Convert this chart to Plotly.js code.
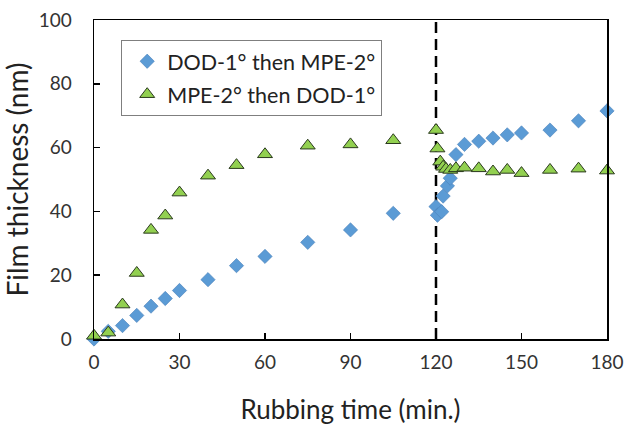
<!DOCTYPE html>
<html>
<head>
<meta charset="utf-8">
<script src="https://cdn.plot.ly/plotly-3.0.1.min.js"></script>
<style>html,body{margin:0;padding:0;background:#fff;}#chart{width:627px;height:425px;}</style>
</head>
<body>
<div id="chart"></div>
<script>
const seriesNames = ["DOD-1° then MPE-2°", "MPE-2° then DOD-1°"];
const timeDOD = [0,5,10,15,20,25,30,40,50,60,75,90,105,120,120.5,122,122.5,124,125,127,130,135,140,145,150,160,170,180];
const thickDOD = [0,2.4,4.2,7.4,10.3,12.7,15.2,18.6,23,25.9,30.3,34.2,39.4,41.5,38.8,39.9,44.8,48,50.4,57.8,61,62,63,64,64.6,65.5,68.4,71.5];
const timeMPE = [0,5,10,15,20,25,30,40,50,60,75,90,105,120,120.5,121.5,122.5,123.5,125,127,130,135,140,145,150,160,170,180];
const thickMPE = [1,2,10.8,20.7,34.2,38.7,45.9,51.2,54.5,57.9,60.6,61,62.3,65.5,59.7,55.6,54,53.3,53,53.5,53.7,53.5,52.5,53,52,53,53.4,52.8];
const xTicks = [0,30,60,90,120,150,180];
const yTicks = [0,20,40,60,80,100];
const switchTime = 120;

const FONT = "Lato, 'Open Sans', sans-serif";

const traces = [
  {
    x: timeDOD, y: thickDOD, name: seriesNames[0], type: "scatter", mode: "markers",
    legendgroup: "a", cliponaxis: false,
    marker: {symbol: "diamond", size: 11, color: "#5B9BD5", line: {color: "#4a80b8", width: 0.6}}
  },
  {
    x: timeMPE, y: thickMPE, name: seriesNames[1], type: "scatter", mode: "markers",
    legendgroup: "b", cliponaxis: false,
    marker: {symbol: "triangle-up", size: 13, color: "#92D050", line: {color: "#2b3a1e", width: 1}}
  }
];

const layout = {
  width: 627, height: 425,
  margin: {l: 94, r: 20, t: 20, b: 86},
  paper_bgcolor: "#fff", plot_bgcolor: "#fff",
  font: {family: FONT, size: 19, color: "#222"},
  showlegend: true,
  legend: {
    x: 0.053, y: 0.938, xanchor: "left", yanchor: "top",
    bgcolor: "#fff", bordercolor: "#7f7f7f", borderwidth: 1,
    font: {family: FONT, size: 21.5, color: "#222"},
    tracegroupgap: 2, itemwidth: 30, indentation: 5
  },
  xaxis: {
    range: [0, 180], tickvals: xTicks, ticktext: xTicks.map(String),
    ticks: "inside", ticklen: 6, tickwidth: 1.5, tickcolor: "#000",
    showline: true, linecolor: "#000", linewidth: 1.5, mirror: true,
    showgrid: false, zeroline: false, ticklabelstandoff: 6,
    tickfont: {family: FONT, size: 19, color: "#333"},
    title: {text: "Rubbing time (min.)", font: {family: FONT, size: 26, color: "#222"}, standoff: 29}
  },
  yaxis: {
    range: [0, 100], tickvals: yTicks, ticktext: yTicks.map(String),
    ticks: "inside", ticklen: 6, tickwidth: 1.5, tickcolor: "#000",
    showline: true, linecolor: "#000", linewidth: 1.5, mirror: true,
    showgrid: false, zeroline: false, ticklabelstandoff: 17,
    tickfont: {family: FONT, size: 19, color: "#333"},
    title: {text: "Film thickness (nm)", font: {family: FONT, size: 28, color: "#222"}, standoff: 3}
  },
  shapes: [{
    type: "line", xref: "x", yref: "y", x0: switchTime, x1: switchTime, y0: 0, y1: 100,
    line: {color: "#000", width: 2.5, dash: "11px,6px"}, layer: "below"
  }]
};

Plotly.newPlot("chart", traces, layout, {displayModeBar: false, staticPlot: true});
</script>
</body>
</html>
